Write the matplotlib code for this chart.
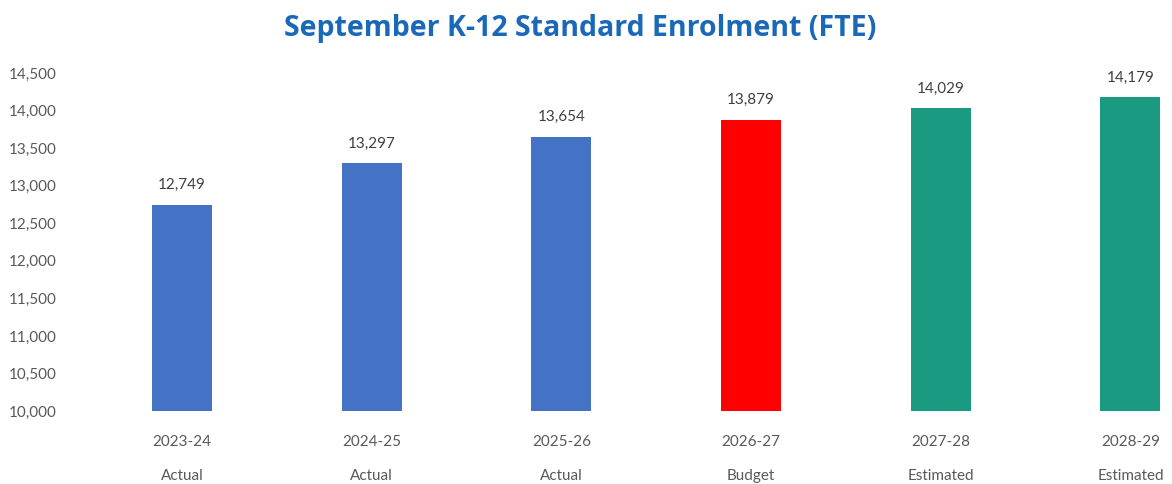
import matplotlib.pyplot as plt
from matplotlib.ticker import FuncFormatter

years = ['2023-24', '2024-25', '2025-26', '2026-27', '2027-28', '2028-29']
kinds = ['Actual', 'Actual', 'Actual', 'Budget', 'Estimated', 'Estimated']
enrolment = [12749, 13297, 13654, 13879, 14029, 14179]
colours = ['#4472C4', '#4472C4', '#4472C4', '#FF0000', '#1B9A82', '#1B9A82']

plt.rcParams['font.family'] = ['Lato', 'DejaVu Sans']

fig = plt.figure(figsize=(11.72, 4.84), dpi=100)
ax = fig.add_axes([0.0743, 0.1508, 0.9257, 0.6983])

x = range(len(years))
ax.bar(x, enrolment, width=0.316, color=colours, bottom=0)
ax.set_ylim(10000, 14500)
ax.set_xlim(-0.5, 5.219)
ax.set_yticks(range(10000, 14501, 500))
ax.yaxis.set_major_formatter(FuncFormatter(lambda v, p: f'{int(v):,}'))
ax.tick_params(axis='y', length=0, pad=22, labelsize=11, labelcolor='#595959')
ax.set_xticks([])
for s in ax.spines.values():
    s.set_visible(False)

for i, v in enumerate(enrolment):
    ax.annotate(f'{v:,}', (i, v), xytext=(0, 9), textcoords='offset points',
                ha='center', va='bottom', fontsize=11, color='#404040')
    ax.annotate(years[i], (i, 0), xycoords=('data', 'axes fraction'),
                xytext=(0, -22), textcoords='offset points',
                ha='center', va='center', fontsize=11, color='#595959')
    ax.annotate(kinds[i], (i, 0), xycoords=('data', 'axes fraction'),
                xytext=(0, -47), textcoords='offset points',
                ha='center', va='center', fontsize=11, color='#595959')

fig.text(0.495, 0.942, 'September K-12 Standard Enrolment (FTE)', ha='center', va='center',
         fontsize=20.5, fontweight='bold', color='#1A68B8', family=['Open Sans', 'DejaVu Sans'])

fig.savefig('out.png', dpi=100)
